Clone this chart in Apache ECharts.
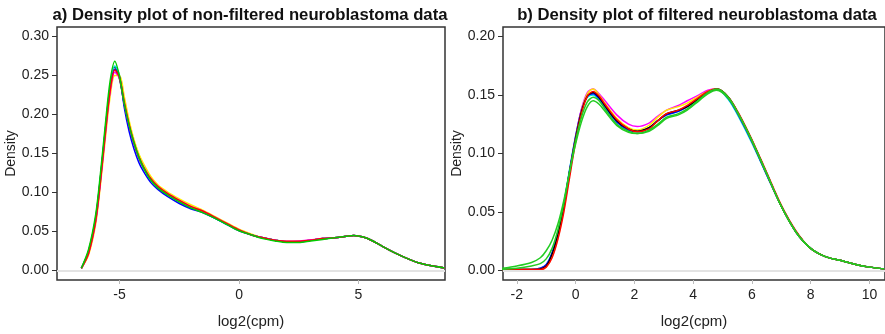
<!DOCTYPE html>
<html>
<head>
<meta charset="utf-8">
<script src="https://cdn.jsdelivr.net/npm/echarts@6/dist/echarts.min.js"></script>
<style>
  html, body { margin: 0; padding: 0; background: #fff; }
  #chart { width: 885px; height: 334px; }
</style>
</head>
<body>
<div id="chart"></div>
<script>
// panel a) non-filtered, x = log2(cpm)
var xA = [-6.6, -6.3, -6.0, -5.8, -5.6, -5.4, -5.2, -5.0, -4.8, -4.6, -4.4, -4.2, -4.0, -3.7, -3.4, -3.0, -2.5, -2.0, -1.5, -1.0,
  -0.5, 0, 0.5, 1.0, 1.5, 2.0, 2.5, 3.0, 3.5, 4.0, 4.5, 4.8, 5.2, 5.6, 6.0, 6.5, 7.0, 7.5, 8.0, 8.6];
var aBlack = [0.003, 0.025, 0.068, 0.120, 0.180, 0.235, 0.261, 0.245, 0.212, 0.185, 0.163, 0.145, 0.132, 0.117, 0.107, 0.098, 0.089, 0.081, 0.075, 0.068,
  0.060, 0.052, 0.046, 0.042, 0.039, 0.037, 0.037, 0.039, 0.041, 0.042, 0.044, 0.045, 0.043, 0.038, 0.031, 0.023, 0.016, 0.010, 0.0065, 0.0035];
var aRed = [0.003, 0.022, 0.064, 0.115, 0.175, 0.230, 0.257, 0.247, 0.215, 0.187, 0.164, 0.146, 0.133, 0.118, 0.108, 0.099, 0.090, 0.082, 0.076, 0.068,
  0.060, 0.052, 0.046, 0.042, 0.039, 0.0375, 0.0375, 0.039, 0.041, 0.042, 0.044, 0.045, 0.043, 0.038, 0.031, 0.023, 0.016, 0.010, 0.0065, 0.0035];
var aYellow = [0.003, 0.020, 0.060, 0.110, 0.168, 0.222, 0.250, 0.250, 0.222, 0.192, 0.168, 0.150, 0.137, 0.121, 0.110, 0.101, 0.092, 0.084, 0.077, 0.069,
  0.061, 0.053, 0.047, 0.042, 0.039, 0.037, 0.037, 0.039, 0.041, 0.042, 0.044, 0.045, 0.043, 0.038, 0.031, 0.023, 0.016, 0.010, 0.0065, 0.0035];
var aBlue = [0.003, 0.024, 0.066, 0.118, 0.178, 0.232, 0.258, 0.248, 0.208, 0.178, 0.156, 0.139, 0.127, 0.113, 0.104, 0.095, 0.086, 0.079, 0.074, 0.067,
  0.059, 0.051, 0.046, 0.042, 0.039, 0.037, 0.037, 0.039, 0.041, 0.042, 0.044, 0.045, 0.043, 0.038, 0.031, 0.023, 0.016, 0.010, 0.0065, 0.0035];
var aCyan = [0.003, 0.023, 0.065, 0.117, 0.178, 0.234, 0.262, 0.250, 0.216, 0.188, 0.165, 0.146, 0.133, 0.117, 0.107, 0.098, 0.089, 0.081, 0.075, 0.067,
  0.059, 0.052, 0.046, 0.042, 0.039, 0.037, 0.037, 0.039, 0.041, 0.042, 0.044, 0.045, 0.043, 0.038, 0.031, 0.023, 0.016, 0.010, 0.0065, 0.0035];
var aMagenta = [0.003, 0.022, 0.063, 0.114, 0.173, 0.228, 0.254, 0.246, 0.214, 0.186, 0.164, 0.146, 0.133, 0.118, 0.108, 0.099, 0.090, 0.082, 0.076, 0.068,
  0.060, 0.052, 0.046, 0.042, 0.039, 0.0375, 0.038, 0.0395, 0.041, 0.042, 0.044, 0.045, 0.043, 0.038, 0.031, 0.023, 0.016, 0.010, 0.0065, 0.0035];
var aGreen = [0.003, 0.027, 0.072, 0.125, 0.186, 0.242, 0.268, 0.248, 0.213, 0.186, 0.164, 0.146, 0.132, 0.116, 0.106, 0.097, 0.088, 0.080, 0.074, 0.067,
  0.059, 0.051, 0.046, 0.041, 0.038, 0.036, 0.036, 0.038, 0.040, 0.042, 0.044, 0.045, 0.043, 0.038, 0.031, 0.023, 0.016, 0.010, 0.0065, 0.0035];

// panel b) filtered
var xB = [-2.5, -2.0, -1.5, -1.2, -1.0, -0.8, -0.6, -0.4, -0.2, 0, 0.2, 0.4, 0.6, 0.8, 1.0, 1.4, 1.8, 2.1, 2.5, 2.8,
  3.1, 3.5, 3.8, 4.2, 4.5, 4.8, 5.2, 5.6, 6.0, 6.5, 7.0, 7.5, 8.0, 8.5, 9.0, 9.5, 10.0, 10.5];
var bBlack = [0.001, 0.001, 0.001, 0.0015, 0.004, 0.014, 0.031, 0.055, 0.085, 0.113, 0.136, 0.149, 0.152, 0.148, 0.141, 0.128, 0.121, 0.119, 0.122, 0.128,
  0.134, 0.137, 0.140, 0.147, 0.152, 0.155, 0.148, 0.131, 0.111, 0.083, 0.055, 0.033, 0.019, 0.012, 0.0088, 0.0055, 0.003, 0.0015];
var bRed = [0.001, 0.001, 0.001, 0.001, 0.003, 0.011, 0.027, 0.050, 0.080, 0.110, 0.134, 0.149, 0.153, 0.149, 0.142, 0.129, 0.121, 0.1185, 0.121, 0.128,
  0.134, 0.137, 0.141, 0.148, 0.153, 0.155, 0.148, 0.132, 0.112, 0.084, 0.056, 0.034, 0.019, 0.012, 0.0088, 0.0055, 0.003, 0.0015];
var bYellow = [0.001, 0.001, 0.001, 0.001, 0.003, 0.012, 0.028, 0.052, 0.083, 0.112, 0.136, 0.151, 0.155, 0.150, 0.143, 0.130, 0.122, 0.120, 0.124, 0.131,
  0.137, 0.140, 0.143, 0.149, 0.153, 0.155, 0.148, 0.131, 0.111, 0.083, 0.055, 0.033, 0.019, 0.012, 0.0088, 0.0055, 0.003, 0.0015];
var bMagenta = [0.001, 0.001, 0.001, 0.0015, 0.004, 0.013, 0.030, 0.054, 0.085, 0.114, 0.138, 0.152, 0.155, 0.151, 0.145, 0.133, 0.125, 0.123, 0.126, 0.132,
  0.137, 0.141, 0.145, 0.150, 0.154, 0.155, 0.148, 0.131, 0.111, 0.083, 0.055, 0.033, 0.019, 0.012, 0.0088, 0.0055, 0.003, 0.0015];
var bBlue = [0.001, 0.001, 0.001, 0.002, 0.005, 0.015, 0.032, 0.056, 0.086, 0.114, 0.137, 0.149, 0.151, 0.147, 0.140, 0.127, 0.120, 0.1185, 0.122, 0.128,
  0.133, 0.136, 0.140, 0.147, 0.152, 0.155, 0.147, 0.130, 0.110, 0.082, 0.055, 0.033, 0.019, 0.012, 0.0088, 0.0055, 0.003, 0.0015];
var bCyan = [0.001, 0.001, 0.001, 0.002, 0.005, 0.015, 0.033, 0.057, 0.087, 0.115, 0.137, 0.148, 0.150, 0.146, 0.139, 0.127, 0.120, 0.119, 0.122, 0.128,
  0.133, 0.136, 0.140, 0.147, 0.152, 0.155, 0.146, 0.129, 0.109, 0.082, 0.055, 0.033, 0.019, 0.012, 0.0088, 0.0055, 0.003, 0.0015];
var bGreen1 = [0.002, 0.004, 0.007, 0.011, 0.017, 0.026, 0.040, 0.060, 0.085, 0.108, 0.127, 0.140, 0.145, 0.142, 0.136, 0.124, 0.118, 0.117, 0.119, 0.124,
  0.130, 0.133, 0.137, 0.145, 0.151, 0.154, 0.147, 0.131, 0.111, 0.083, 0.055, 0.033, 0.019, 0.012, 0.0088, 0.0055, 0.003, 0.0015];
var bGreen2 = [0.001, 0.002, 0.004, 0.006, 0.010, 0.019, 0.035, 0.057, 0.085, 0.111, 0.131, 0.144, 0.148, 0.145, 0.138, 0.125, 0.119, 0.117, 0.120, 0.125,
  0.131, 0.134, 0.138, 0.146, 0.152, 0.155, 0.148, 0.131, 0.111, 0.083, 0.055, 0.033, 0.019, 0.012, 0.0088, 0.0055, 0.003, 0.0015];

var ticksA = [-5, 0, 5];
var ticksB = [-2, 0, 2, 4, 6, 8, 10];
var yTicksA = [0, 0.05, 0.10, 0.15, 0.20, 0.25, 0.30];
var yTicksB = [0, 0.05, 0.10, 0.15, 0.20];

var font = 'Liberation Sans, Arial, sans-serif';
var chart = echarts.init(document.getElementById('chart'));

function pairs(xs, ys) {
  return xs.map(function (x, i) { return [x, ys[i]]; });
}

function line(idx, xs, ys, color) {
  return {
    type: 'line',
    xAxisIndex: idx,
    yAxisIndex: idx,
    data: pairs(xs, ys),
    showSymbol: false,
    smooth: 0.3,
    lineStyle: { color: color, width: 1.5 },
    silent: true,
    z: 3
  };
}

// light grey line at density 0
function zeroLine(idx) {
  return {
    type: 'line',
    xAxisIndex: idx,
    yAxisIndex: idx,
    data: [],
    silent: true,
    markLine: {
      silent: true,
      symbol: 'none',
      label: { show: false },
      lineStyle: { color: '#e3e3e3', width: 2, type: 'solid' },
      data: [{ yAxis: 0 }]
    },
    z: 1
  };
}

function xAxis(idx, min, max, ticks) {
  return {
    type: 'value',
    gridIndex: idx,
    min: min,
    max: max,
    name: 'log2(cpm)',
    nameLocation: 'middle',
    nameGap: 34,
    nameTextStyle: { fontFamily: font, fontSize: 15, color: '#222' },
    splitLine: { show: false },
    axisLine: { show: false, onZero: false },
    axisTick: { show: true, customValues: ticks, length: 4, lineStyle: { color: '#bbb' } },
    axisLabel: { customValues: ticks, margin: 8, fontFamily: font, fontSize: 14, color: '#222',
      formatter: function (v) { return String(v); } }
  };
}

function yAxis(idx, min, max, ticks) {
  return {
    type: 'value',
    gridIndex: idx,
    min: min,
    max: max,
    name: 'Density',
    nameLocation: 'middle',
    nameGap: 35,
    nameRotate: 90,
    nameTextStyle: { fontFamily: font, fontSize: 14, color: '#222' },
    splitLine: { show: false },
    axisLine: { show: false, onZero: false },
    axisTick: { show: true, customValues: ticks, length: 5, lineStyle: { color: '#333' } },
    axisLabel: { customValues: ticks, margin: 8, fontFamily: font, fontSize: 14, color: '#222',
      formatter: function (v) { return v.toFixed(2); } }
  };
}

var option = {
  animation: false,
  backgroundColor: '#fff',
  title: [
    { text: 'a) Density plot of non-filtered neuroblastoma data', left: 245, top: 2, textAlign: 'center',
      textStyle: { fontFamily: font, fontSize: 16.7, fontWeight: 'bold', color: '#111' } },
    { text: 'b) Density plot of filtered neuroblastoma data', left: 692, top: 2, textAlign: 'center',
      textStyle: { fontFamily: font, fontSize: 16.7, fontWeight: 'bold', color: '#111' } }
  ],
  grid: [
    { left: 57, right: 440, top: 27, bottom: 51, show: true, borderColor: '#333', borderWidth: 1.5, backgroundColor: 'transparent' },
    { left: 503, right: -7, top: 27, bottom: 51, show: true, borderColor: '#333', borderWidth: 1.5, backgroundColor: 'transparent' }
  ],
  xAxis: [xAxis(0, -7.62, 8.62, ticksA), xAxis(1, -2.47, 10.53, ticksB)],
  yAxis: [yAxis(0, -0.012, 0.312, yTicksA), yAxis(1, -0.008, 0.208, yTicksB)],
  series: [
    zeroLine(0), zeroLine(1),
    line(0, xA, aBlack, '#000000'),
    line(0, xA, aCyan, '#00e5e5'),
    line(0, xA, aYellow, '#ffee00'),
    line(0, xA, aBlue, '#0000ff'),
    line(0, xA, aMagenta, '#ff00ff'),
    line(0, xA, aRed, '#ff0000'),
    line(0, xA, aGreen, '#00cc00'),
    line(1, xB, bCyan, '#00e5e5'),
    line(1, xB, bBlue, '#0000ff'),
    line(1, xB, bMagenta, '#ff00ff'),
    line(1, xB, bYellow, '#ffee00'),
    line(1, xB, bBlack, '#000000'),
    line(1, xB, bRed, '#ff0000'),
    line(1, xB, bGreen2, '#22cc22'),
    line(1, xB, bGreen1, '#22cc22')
  ]
};

chart.setOption(option);
</script>
</body>
</html>
